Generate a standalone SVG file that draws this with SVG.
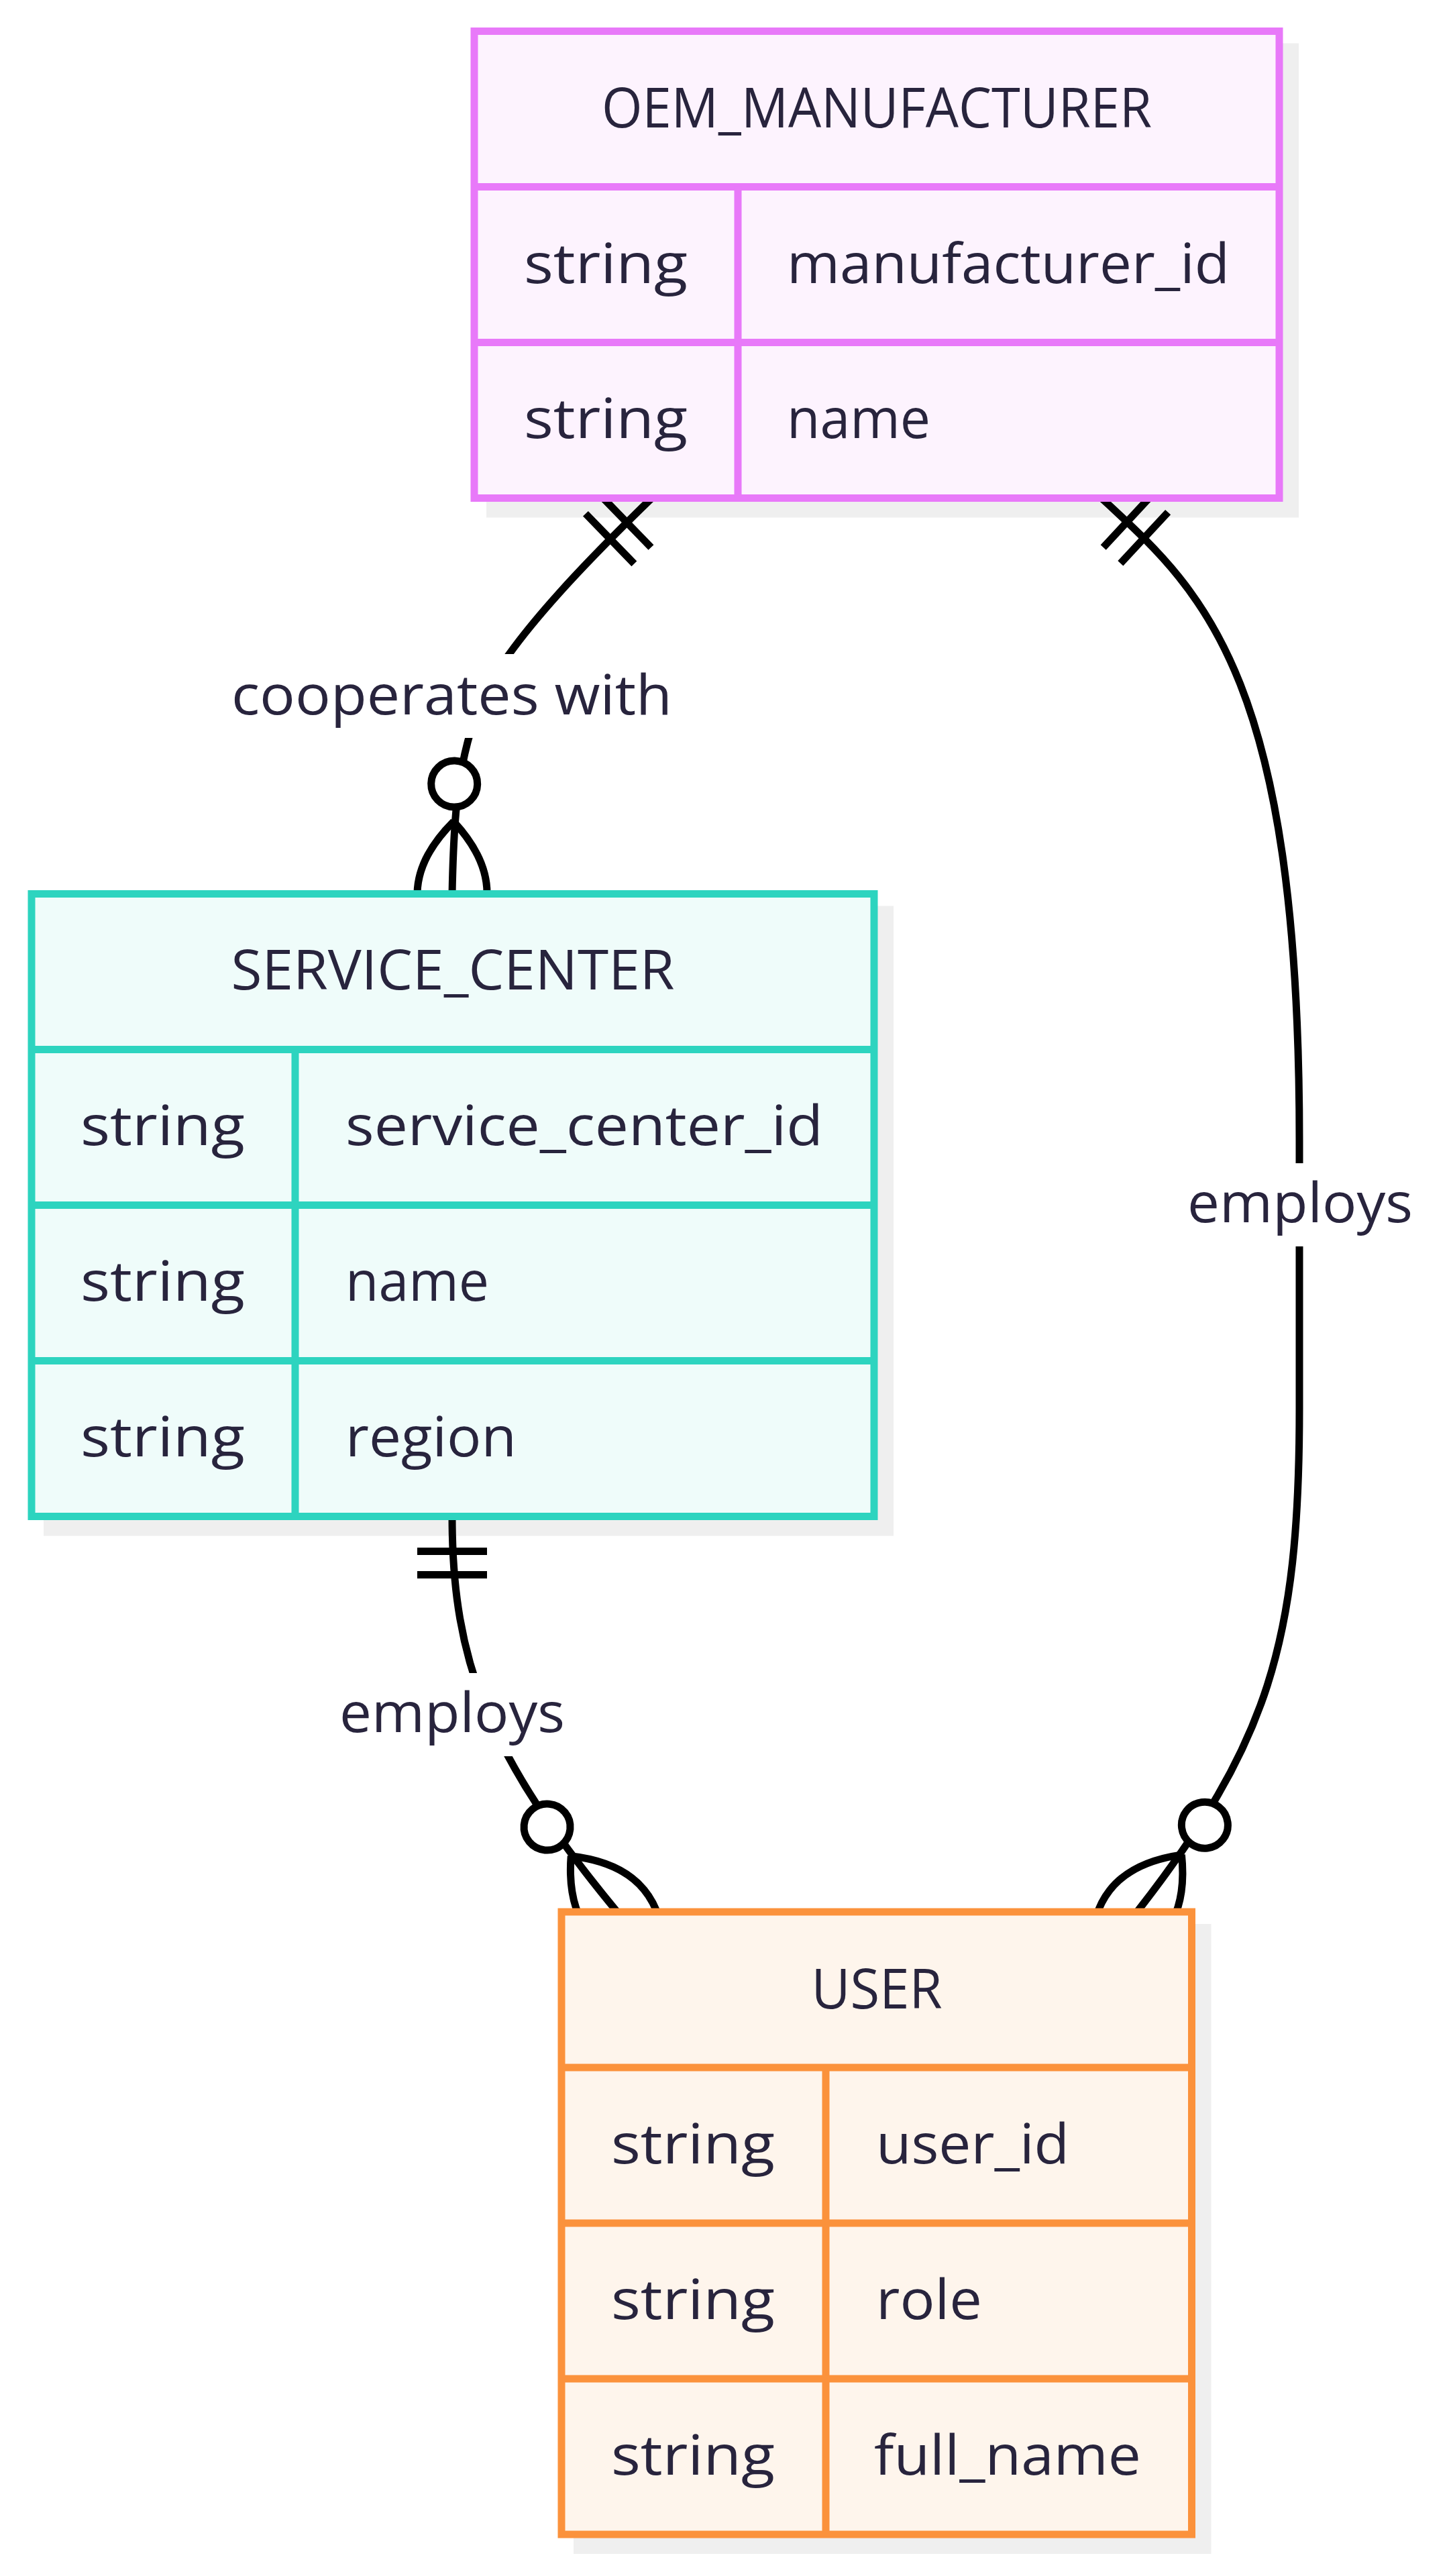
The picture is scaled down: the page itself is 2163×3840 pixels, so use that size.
<svg xmlns="http://www.w3.org/2000/svg" width="2163" height="3840" viewBox="0 0 2163 3840">
<style>
.t{font-family:"Open Sans","Noto Sans","Liberation Sans",sans-serif;font-size:82px;fill:#28243d;}
.shadow{fill:#efefef;stroke:#efefef;stroke-width:11;}
.edge{fill:none;stroke:#000;stroke-width:11;}
.lbg{fill:#ffffff;}
.oem .box,.oem .ln{stroke:#e879f9;stroke-width:11;}
.oem .box{fill:#fdf3fe;}
.sc .box,.sc .ln{stroke:#2dd4bf;stroke-width:11;}
.sc .box{fill:#effcfa;}
.usr .box,.usr .ln{stroke:#fb923c;stroke-width:11;}
.usr .box{fill:#fef5ec;}
</style>
<defs>
<marker id="oneStart" markerUnits="userSpaceOnUse" orient="auto" refX="0" refY="0" markerWidth="1" markerHeight="1" style="overflow:visible">
<path d="M52,-52 L52,52 M87,-52 L87,52" fill="none" stroke="#000" stroke-width="11"/>
</marker>
<marker id="zeroManyEnd" markerUnits="userSpaceOnUse" orient="auto" refX="0" refY="0" markerWidth="1" markerHeight="1" style="overflow:visible">
<circle cx="-164" cy="0" r="34.5" fill="#fff" stroke="#000" stroke-width="11"/>
<path d="M-108,0 Q0,-104 108,0 Q0,104 -108,0" fill="none" stroke="#000" stroke-width="11"/>
</marker>
</defs>
<rect width="2163" height="3840" fill="#ffffff"/>
<g id="shadows">
<rect class="shadow" x="730.5" y="70" width="1200" height="696"/>
<rect class="shadow" x="70.5" y="1356" width="1256" height="928"/>
<rect class="shadow" x="860.5" y="2873.5" width="939.5" height="928"/>
</g>
<g id="connectors">
<path class="edge" d="M971.6,742.5 C900,812 760,950 720,1040 S676,1230 674,1332.5" marker-start="url(#oneStart)" marker-end="url(#zeroManyEnd)"/>
<path class="edge" d="M1642,742.5 C1790,880 1937,1000 1937,1700 L1937,2100 C1937,2450 1890,2600 1695,2850" marker-start="url(#oneStart)" marker-end="url(#zeroManyEnd)"/>
<path class="edge" d="M674,2260.5 C674,2480 730,2620 920,2850" marker-start="url(#oneStart)" marker-end="url(#zeroManyEnd)"/>
<rect class="lbg" x="340" y="975" width="668" height="125"/>
<text class="t" x="345" y="1064.5" textLength="657" lengthAdjust="spacingAndGlyphs">cooperates with</text>
<rect class="lbg" x="1764" y="1734" width="349" height="124"/>
<text class="t" x="1770" y="1822" textLength="336" lengthAdjust="spacingAndGlyphs">employs</text>
<rect class="lbg" x="500" y="2494" width="348" height="124"/>
<text class="t" x="506" y="2582" textLength="336" lengthAdjust="spacingAndGlyphs">employs</text>
</g>
<g id="OEM_MANUFACTURER" class="oem">
<rect class="box" x="707" y="46.5" width="1200" height="696"/>
<line class="ln" x1="707" y1="278.5" x2="1907" y2="278.5"/>
<line class="ln" x1="707" y1="510.5" x2="1907" y2="510.5"/>
<line class="ln" x1="1100" y1="278.5" x2="1100" y2="742.5"/>
<text class="t" x="1307" y="190" text-anchor="middle" textLength="820" lengthAdjust="spacingAndGlyphs">OEM_MANUFACTURER</text>
<text class="t" x="781" y="421.5" textLength="244" lengthAdjust="spacingAndGlyphs">string</text>
<text class="t" x="1173" y="421.5" textLength="660" lengthAdjust="spacingAndGlyphs">manufacturer_id</text>
<text class="t" x="781" y="653" textLength="244" lengthAdjust="spacingAndGlyphs">string</text>
<text class="t" x="1173" y="653" textLength="214" lengthAdjust="spacingAndGlyphs">name</text>
</g>
<g id="SERVICE_CENTER" class="sc">
<rect class="box" x="47" y="1332.5" width="1256" height="928"/>
<line class="ln" x1="47" y1="1564.5" x2="1303" y2="1564.5"/>
<line class="ln" x1="47" y1="1796.5" x2="1303" y2="1796.5"/>
<line class="ln" x1="47" y1="2028.5" x2="1303" y2="2028.5"/>
<line class="ln" x1="440" y1="1564.5" x2="440" y2="2260.5"/>
<text class="t" x="675" y="1475" text-anchor="middle" textLength="661" lengthAdjust="spacingAndGlyphs">SERVICE_CENTER</text>
<text class="t" x="120" y="1706.5" textLength="245" lengthAdjust="spacingAndGlyphs">string</text>
<text class="t" x="515" y="1706.5" textLength="712" lengthAdjust="spacingAndGlyphs">service_center_id</text>
<text class="t" x="120" y="1938.5" textLength="245" lengthAdjust="spacingAndGlyphs">string</text>
<text class="t" x="515" y="1938.5" textLength="214" lengthAdjust="spacingAndGlyphs">name</text>
<text class="t" x="120" y="2170.5" textLength="245" lengthAdjust="spacingAndGlyphs">string</text>
<text class="t" x="515" y="2170.5" textLength="255" lengthAdjust="spacingAndGlyphs">region</text>
</g>
<g id="USER" class="usr">
<rect class="box" x="837" y="2850" width="939.5" height="928"/>
<line class="ln" x1="837" y1="3082" x2="1776.5" y2="3082"/>
<line class="ln" x1="837" y1="3314" x2="1776.5" y2="3314"/>
<line class="ln" x1="837" y1="3546" x2="1776.5" y2="3546"/>
<line class="ln" x1="1231" y1="3082" x2="1231" y2="3778"/>
<text class="t" x="1307" y="2993.5" text-anchor="middle" textLength="195" lengthAdjust="spacingAndGlyphs">USER</text>
<text class="t" x="911" y="3224.5" textLength="244" lengthAdjust="spacingAndGlyphs">string</text>
<text class="t" x="1306" y="3224.5" textLength="288" lengthAdjust="spacingAndGlyphs">user_id</text>
<text class="t" x="911" y="3456.5" textLength="244" lengthAdjust="spacingAndGlyphs">string</text>
<text class="t" x="1306" y="3456.5" textLength="158" lengthAdjust="spacingAndGlyphs">role</text>
<text class="t" x="911" y="3688.5" textLength="244" lengthAdjust="spacingAndGlyphs">string</text>
<text class="t" x="1303" y="3688.5" textLength="398" lengthAdjust="spacingAndGlyphs">full_name</text>
</g>
</svg>
